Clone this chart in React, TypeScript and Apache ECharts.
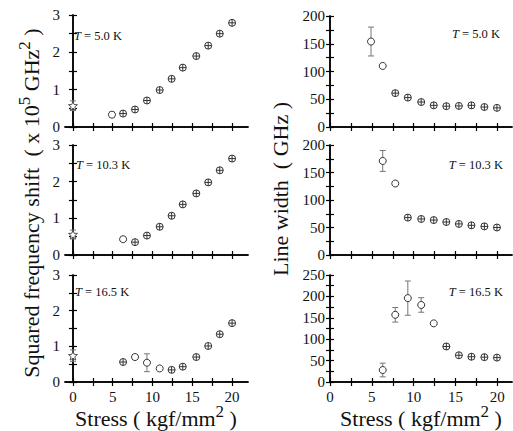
import React, { useEffect, useRef } from "react";
import * as echarts from "echarts";

// ---------- data ----------
// Squared frequency shift (x 10^5 GHz^2), T = 5.0 K
const shift50X = [0, 4.9, 6.3, 7.8, 9.3, 10.9, 12.4, 13.8, 15.5, 17.0, 18.45, 20.0];
const shift50Y = [0.57, 0.33, 0.36, 0.47, 0.71, 0.99, 1.29, 1.59, 1.9, 2.18, 2.5, 2.79];
const shift50Err = [0.13, 0.07, 0, 0, 0, 0, 0, 0, 0, 0, 0, 0];
const shift50Kind = ["star", "open", "cross", "cross", "cross", "cross", "cross", "cross", "cross", "cross", "cross", "cross"];

// T = 10.3 K
const shift103X = [0, 6.3, 7.8, 9.3, 10.9, 12.4, 13.8, 15.5, 17.0, 18.45, 20.0];
const shift103Y = [0.56, 0.43, 0.35, 0.53, 0.77, 1.07, 1.38, 1.68, 1.98, 2.31, 2.63];
const shift103Err = [0.12, 0.06, 0, 0, 0, 0, 0, 0, 0, 0, 0];
const shift103Kind = ["star", "open", "cross", "cross", "cross", "cross", "cross", "cross", "cross", "cross", "cross"];

// T = 16.5 K
const shift165X = [0, 6.3, 7.8, 9.3, 10.9, 12.4, 13.8, 15.5, 17.0, 18.45, 20.0];
const shift165Y = [0.74, 0.56, 0.7, 0.54, 0.38, 0.34, 0.43, 0.7, 1.01, 1.34, 1.65];
const shift165Err = [0.16, 0, 0.07, 0.25, 0.05, 0, 0, 0, 0, 0, 0];
const shift165Kind = ["star", "cross", "open", "open", "open", "cross", "cross", "cross", "cross", "cross", "cross"];

// Line width (GHz), T = 5.0 K
const width50X = [4.9, 6.3, 7.8, 9.3, 10.9, 12.4, 13.9, 15.4, 16.9, 18.45, 19.95];
const width50Y = [154, 110, 61, 53, 45, 39, 37.5, 38, 39, 36, 34.5];
const width50Err = [26, 3, 0, 0, 0, 0, 0, 0, 0, 0, 0];
const width50Kind = ["open", "open", "cross", "cross", "cross", "cross", "cross", "cross", "cross", "cross", "cross"];

// T = 10.3 K
const width103X = [6.3, 7.8, 9.3, 10.9, 12.4, 13.9, 15.4, 16.9, 18.45, 19.95];
const width103Y = [171, 130, 68, 65.5, 63.5, 60, 56.5, 54, 52, 50];
const width103Err = [19, 3, 0, 0, 0, 0, 0, 0, 0, 0];
const width103Kind = ["open", "open", "cross", "cross", "cross", "cross", "cross", "cross", "cross", "cross"];

// T = 16.5 K
const width165X = [6.3, 7.8, 9.3, 10.9, 12.4, 13.9, 15.4, 16.9, 18.45, 19.95];
const width165Y = [28, 157, 196, 180, 137, 83, 62.5, 59, 58, 57];
const width165Err = [16, 17, 40, 17, 3, 0, 0, 0, 0, 0];
const width165Kind = ["open", "open", "open", "open", "open", "cross", "cross", "cross", "cross", "cross"];

// ticks
const xTicks = [0, 2.5, 5, 7.5, 10, 12.5, 15, 17.5, 20];
const xLabels = [0, 5, 10, 15, 20];
const shiftLabels = [0, 1, 2, 3];
const widthLabels200 = [0, 50, 100, 150, 200];
const widthLabels250 = [0, 50, 100, 150, 200, 250];
const tempLabels = ["5.0", "10.3", "16.5"];

// ---------- styling ----------
const FONT = "Liberation Serif";
const CROSS = "path://M10,0 A10,10 0 1,1 10,20 A10,10 0 1,1 10,0 Z M0,10 L20,10 M10,0 L10,20";
const STAR =
  "path://M10,0 L12.47,6.6 L19.51,6.91 L13.99,11.3 L15.88,18.09 L10,14.2 L4.12,18.09 L6.01,11.3 L0.49,6.91 L7.53,6.6 Z";

type Panel = {
  x: number[];
  y: number[];
  err: number[];
  kind: string[];
  grid: { left: number; top: number; width: number; height: number };
  xmin: number;
  xmax: number;
  ymax: number;
  yInterval: number;
  yLabels: number[];
  showX: boolean;
  label: string;
  labelPos: { x: number; y: number; align: string };
};

const panels: Panel[] = [
  { x: shift50X, y: shift50Y, err: shift50Err, kind: shift50Kind, grid: { left: 65, top: 15, width: 183, height: 112 }, xmin: -1, xmax: 22, ymax: 3, yInterval: 0.5, yLabels: shiftLabels, showX: false, label: tempLabels[0], labelPos: { x: 74, y: 36, align: "left" } },
  { x: shift103X, y: shift103Y, err: shift103Err, kind: shift103Kind, grid: { left: 65, top: 145, width: 183, height: 110 }, xmin: -1, xmax: 22, ymax: 3, yInterval: 0.5, yLabels: shiftLabels, showX: false, label: tempLabels[1], labelPos: { x: 76, y: 165, align: "left" } },
  { x: shift165X, y: shift165Y, err: shift165Err, kind: shift165Kind, grid: { left: 65, top: 275, width: 183, height: 107 }, xmin: -1, xmax: 22, ymax: 3, yInterval: 0.5, yLabels: shiftLabels, showX: true, label: tempLabels[2], labelPos: { x: 75, y: 292, align: "left" } },
  { x: width50X, y: width50Y, err: width50Err, kind: width50Kind, grid: { left: 330, top: 16, width: 182, height: 111 }, xmin: 0, xmax: 21.75, ymax: 200, yInterval: 25, yLabels: widthLabels200, showX: false, label: tempLabels[0], labelPos: { x: 500, y: 34, align: "right" } },
  { x: width103X, y: width103Y, err: width103Err, kind: width103Kind, grid: { left: 330, top: 145, width: 182, height: 110 }, xmin: 0, xmax: 21.75, ymax: 200, yInterval: 25, yLabels: widthLabels200, showX: false, label: tempLabels[1], labelPos: { x: 503, y: 165, align: "right" } },
  { x: width165X, y: width165Y, err: width165Err, kind: width165Kind, grid: { left: 330, top: 275, width: 182, height: 107 }, xmin: 0, xmax: 21.75, ymax: 250, yInterval: 25, yLabels: widthLabels250, showX: true, label: tempLabels[2], labelPos: { x: 503, y: 292, align: "right" } },
];

function buildOption() {
  const grid: any[] = [];
  const xAxis: any[] = [];
  const yAxis: any[] = [];
  const series: any[] = [];
  const graphic: any[] = [];

  const axisLine = { show: true, lineStyle: { color: "#000", width: 1.5 } };
  const axisTick = (vals?: number[]) => ({
    show: true,
    inside: true,
    length: 4,
    lineStyle: { color: "#000", width: 1.2 },
    ...(vals ? { customValues: vals } : {}),
  });

  panels.forEach((p, i) => {
    grid.push({ ...p.grid, containLabel: false });
    const xi = xAxis.length;
    const xBase = { type: "value", gridIndex: i, min: p.xmin, max: p.xmax, splitLine: { show: false }, axisLine };
    xAxis.push({
      ...xBase,
      position: "bottom",
      axisTick: axisTick(xTicks),
      axisLabel: {
        show: p.showX,
        customValues: xLabels,
        fontFamily: FONT,
        fontSize: 15,
        color: "#111",
        margin: 7,
      },
    });
    xAxis.push({ ...xBase, position: "top", axisTick: axisTick(xTicks), axisLabel: { show: false } });
    const yi = yAxis.length;
    const yBase = { type: "value", gridIndex: i, min: 0, max: p.ymax, interval: p.yInterval, splitLine: { show: false }, axisLine };
    yAxis.push({
      ...yBase,
      position: "left",
      axisTick: axisTick(),
      axisLabel: {
        show: true,
        customValues: p.yLabels,
        fontFamily: FONT,
        fontSize: 15,
        color: "#111",
        margin: 5,
      },
    });
    yAxis.push({ ...yBase, position: "right", axisTick: axisTick(), axisLabel: { show: false } });

    const errData = p.x.map((x, k) => [x, p.y[k], p.err[k]]);
    series.push({
      type: "custom",
      xAxisIndex: xi,
      yAxisIndex: yi,
      z: 1,
      data: errData,
      renderItem: (params: any, api: any) => {
        const x = api.value(0);
        const y = api.value(1);
        const e = api.value(2);
        if (!e || e <= 0) return { type: "group", children: [] };
        const top = api.coord([x, y + e]);
        const bot = api.coord([x, y - e]);
        const st = { stroke: "#777", lineWidth: 1 };
        return {
          type: "group",
          children: [
            { type: "line", shape: { x1: top[0], y1: top[1], x2: bot[0], y2: bot[1] }, style: st },
            { type: "line", shape: { x1: top[0] - 3, y1: top[1], x2: top[0] + 3, y2: top[1] }, style: st },
            { type: "line", shape: { x1: bot[0] - 3, y1: bot[1], x2: bot[0] + 3, y2: bot[1] }, style: st },
          ],
        };
      },
    });

    const pick = (kind: string) =>
      p.x.map((x, k) => (p.kind[k] === kind ? [x, p.y[k]] : null)).filter((d) => d !== null);

    series.push({
      type: "scatter",
      xAxisIndex: xi,
      yAxisIndex: yi,
      z: 3,
      symbol: "circle",
      symbolSize: 7,
      itemStyle: { color: "#fff", borderColor: "#333", borderWidth: 1, opacity: 1 },
      data: pick("open"),
    });
    series.push({
      type: "scatter",
      xAxisIndex: xi,
      yAxisIndex: yi,
      z: 3,
      symbol: CROSS,
      symbolSize: 7,
      itemStyle: { color: "#fff", borderColor: "#333", borderWidth: 1, opacity: 1 },
      data: pick("cross"),
    });
    series.push({
      type: "scatter",
      xAxisIndex: xi,
      yAxisIndex: yi,
      z: 3,
      symbol: STAR,
      symbolSize: 9,
      itemStyle: { color: "#fff", borderColor: "#444", borderWidth: 0.9, opacity: 1 },
      data: pick("star"),
    });

    graphic.push({
      type: "text",
      x: p.labelPos.x,
      y: p.labelPos.y,
      style: {
        text: "{i|T}{r| = " + p.label + " K}",
        textAlign: p.labelPos.align,
        textVerticalAlign: "middle",
        rich: {
          i: { fontStyle: "italic", fontFamily: FONT, fontSize: 12.5, fill: "#111" },
          r: { fontFamily: FONT, fontSize: 12.5, fill: "#111" },
        },
      },
    });
  });

  const titleRich = {
    n: { fontFamily: FONT, fontSize: 22, fill: "#111", lineHeight: 26, verticalAlign: "bottom" },
    s: { fontFamily: FONT, fontSize: 17, fill: "#111", lineHeight: 26, verticalAlign: "top" },
  };

  graphic.push({
    type: "text",
    x: 29,
    y: 203,
    rotation: Math.PI / 2,
    style: {
      text: "{n|Squared frequency shift  ( x 10}{s|5}{n| GHz}{s|2}{n| )}",
      textAlign: "center",
      textVerticalAlign: "middle",
      rich: titleRich,
    },
  });
  graphic.push({
    type: "text",
    x: 278,
    y: 189,
    rotation: Math.PI / 2,
    style: {
      text: "{n|Line width  ( GHz )}",
      textAlign: "center",
      textVerticalAlign: "middle",
      rich: titleRich,
    },
  });
  [156, 421].forEach((cx) => {
    graphic.push({
      type: "text",
      x: cx,
      y: 416,
      style: {
        text: "{n|Stress ( kgf/mm}{s|2}{n| )}",
        textAlign: "center",
        textVerticalAlign: "middle",
        rich: titleRich,
      },
    });
  });

  return {
    animation: false,
    backgroundColor: "#fff",
    grid,
    xAxis,
    yAxis,
    series,
    graphic,
  };
}

export default function App() {
  const ref = useRef<HTMLDivElement>(null);
  useEffect(() => {
    if (!ref.current) return;
    const chart = echarts.init(ref.current, null, { renderer: "svg" });
    chart.setOption(buildOption() as any);
    return () => chart.dispose();
  }, []);
  return (
    <div
      ref={ref}
      style={{ position: "fixed", left: 0, top: 0, width: 513, height: 431, background: "#fff" }}
    />
  );
}
